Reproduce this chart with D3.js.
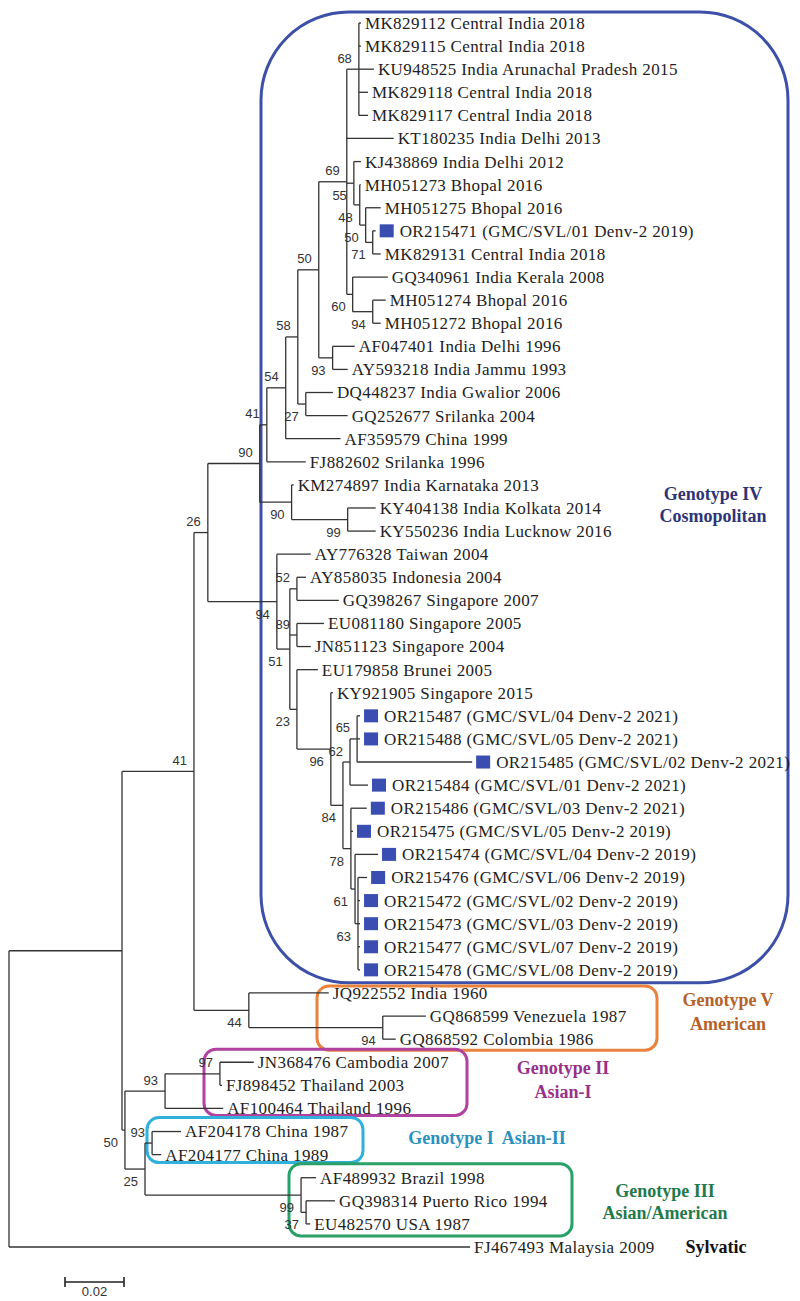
<!DOCTYPE html>
<html>
<head>
<meta charset="utf-8">
<script src="https://cdn.jsdelivr.net/npm/d3@7"></script>
<style>
  html, body { margin: 0; padding: 0; background: #fff; }
  svg { display: block; }
  .serif { font-family: 'Liberation Serif', 'Times New Roman', serif; }
  .sans { font-family: 'Liberation Sans', Arial, sans-serif; }
</style>
</head>
<body>
<svg id="chart" width="800" height="1301"></svg>
<script>
// ---------------- DATA ----------------
// Taxa in the order they appear in the tree (top to bottom)
const taxa = [
  "MK829112 Central India 2018",
  "MK829115 Central India 2018",
  "KU948525 India Arunachal Pradesh 2015",
  "MK829118 Central India 2018",
  "MK829117 Central India 2018",
  "KT180235 India Delhi 2013",
  "KJ438869 India Delhi 2012",
  "MH051273 Bhopal 2016",
  "MH051275 Bhopal 2016",
  "OR215471 (GMC/SVL/01 Denv-2 2019)",
  "MK829131 Central India 2018",
  "GQ340961 India Kerala 2008",
  "MH051274 Bhopal 2016",
  "MH051272 Bhopal 2016",
  "AF047401 India Delhi 1996",
  "AY593218 India Jammu 1993",
  "DQ448237 India Gwalior 2006",
  "GQ252677 Srilanka 2004",
  "AF359579 China 1999",
  "FJ882602 Srilanka 1996",
  "KM274897 India Karnataka 2013",
  "KY404138 India Kolkata 2014",
  "KY550236 India Lucknow 2016",
  "AY776328 Taiwan 2004",
  "AY858035 Indonesia 2004",
  "GQ398267 Singapore 2007",
  "EU081180 Singapore 2005",
  "JN851123 Singapore 2004",
  "EU179858 Brunei 2005",
  "KY921905 Singapore 2015",
  "OR215487 (GMC/SVL/04 Denv-2 2021)",
  "OR215488 (GMC/SVL/05 Denv-2 2021)",
  "OR215485 (GMC/SVL/02 Denv-2 2021)",
  "OR215484 (GMC/SVL/01 Denv-2 2021)",
  "OR215486 (GMC/SVL/03 Denv-2 2021)",
  "OR215475 (GMC/SVL/05 Denv-2 2019)",
  "OR215474 (GMC/SVL/04 Denv-2 2019)",
  "OR215476 (GMC/SVL/06 Denv-2 2019)",
  "OR215472 (GMC/SVL/02 Denv-2 2019)",
  "OR215473 (GMC/SVL/03 Denv-2 2019)",
  "OR215477 (GMC/SVL/07 Denv-2 2019)",
  "OR215478 (GMC/SVL/08 Denv-2 2019)",
  "JQ922552 India 1960",
  "GQ868599 Venezuela 1987",
  "GQ868592 Colombia 1986",
  "JN368476 Cambodia 2007",
  "FJ898452 Thailand 2003",
  "AF100464 Thailand 1996",
  "AF204178 China 1987",
  "AF204177 China 1989",
  "AF489932 Brazil 1998",
  "GQ398314 Puerto Rico 1994",
  "EU482570 USA 1987",
  "FJ467493 Malaysia 2009"
];
const taxonParent = [
  "N68","N68","N68","N68","N68","P","Q1","Q2","Q3","Q4","Q4",
  "N60","N94a","N94a","N93","N93","N27","N27","Y","Z","W","N99","N99",
  "T","R1","R1","R2","R2","O","N96","K","K","K","L","J","J","I",
  "H","H","H","H","H","F","G","G","N97","N97","E","C","C","III","N37","N37","root"
];
// branch lengths (substitutions/site)
const taxonLength = [
  0.0007,0.0007,0.0051,0.0031,0.0031,0.0159,0.0024,0.0003,0.0051,0.0010,0.0027,
  0.0119,0.0044,0.0027,0.0075,0.0051,0.0092,0.0142,0.0186,0.0132,0.0007,0.0095,0.0095,
  0.0115,0.0031,0.0142,0.0092,0.0047,0.0071,0.0007,0.0010,0.0010,0.0390,0.0061,0.0054,0.0007,0.0078,
  0.0031,0.0007,0.0007,0.0007,0.0007,0.0271,0.0146,0.0044,0.0115,0.0007,0.0197,0.0098,0.0031,0.0051,0.0098,0.0014,0.1563
];
// study isolates (marked with a square)
const studyIsolates = [
  "OR215471","OR215487","OR215488","OR215485","OR215484","OR215486",
  "OR215475","OR215474","OR215476","OR215472","OR215473","OR215477","OR215478"
];
// internal nodes
const nodeIds     = ["root","A","n41","B","U","F","V","T","Z","W","Y","X","N50","N27","P","N93",
                     "N68","Q1","Q2","Q3","Q4","N60","N94a","N99","S","R1","R2","O","N96","M","L","K",
                     "J","I","H","G","E","N97","D","C","III","N37"];
const nodeParent  = ["","root","A","A","n41","n41","U","U","V","V","Z","Y","X","X","N50","N50",
                     "P","P","Q1","Q2","Q3","P","N60","W","T","S","S","S","O","N96","M","L",
                     "M","J","I","F","B","E","B","D","D","III"];
const nodeLength  = [0,0.0383,0.0244,0.0010,0.0047,0.0186,0.0176,0.0234,0.0024,0.0108,0.0064,0.0041,0.0071,0.0027,0.0095,0.0047,
                     0.0041,0.0024,0.0020,0.0020,0.0024,0.0020,0.0068,0.0190,0.0044,0.0024,0.0024,0.0024,0.0115,0.0041,0.0024,0.0024,
                     0.0027,0.0014,0.0010,0.0454,0.0136,0.0186,0.0068,0.0024,0.0529,0.0017];
const bootstrap   = [null,null,41,50,26,44,90,94,41,90,54,58,50,27,69,93,
                     68,55,48,50,71,60,94,99,51,52,89,23,96,84,62,65,
                     78,61,63,94,93,97,25,93,99,37];
// genotype groups: first and last taxon index, label lines
const genotypeNames = ["Genotype IV|Cosmopolitan","Genotype V|American","Genotype II|Asian-I","Genotype I\u00a0 Asian-II","Genotype III|Asian/American"];
const genotypeFirst = [0, 42, 45, 48, 50];
const genotypeLast  = [41, 44, 47, 49, 52];
const scaleBarValue = 0.02;

// ---------------- STYLE / LAYOUT ----------------
const groupStyle = [
  {stroke:"#3c4fa9", text:"#2e3577", x0:261, x1:788, padTop:11, padBot:13, rx:88, tx:713, ty:[494,516]},
  {stroke:"#e9823d", text:"#b5622a", x0:317, x1:657, padTop:7,  padBot:11, rx:12, tx:728, ty:[1000,1024]},
  {stroke:"#b3419f", text:"#98318a", x0:204, x1:467, padTop:13, padBot:7,  rx:12, tx:563, ty:[1068,1092]},
  {stroke:"#30b0da", text:"#2b90bd", x0:147, x1:363, padTop:14, padBot:8,  rx:12, tx:487, ty:[1138]},
  {stroke:"#28a067", text:"#1f7a4d", x0:289, x1:572, padTop:14, padBot:12, rx:12, tx:665, ty:[1191,1213]}
];
const lineColor = "#333";
const markColor = "#3a4db0";

// ---------------- BUILD TREE ----------------
const rows = [];
nodeIds.forEach((id,i) => rows.push({id, parent: nodeParent[i] || null, len: nodeLength[i], boot: bootstrap[i], leaf: -1}));
taxa.forEach((name,i) => rows.push({id: "t"+i, parent: taxonParent[i], len: taxonLength[i], boot: null, leaf: i, name}));

const root = d3.stratify().id(d => d.id).parentId(d => d.parent)(rows);
root.eachAfter(n => { n.minLeaf = n.children ? d3.min(n.children, c => c.minLeaf) : n.data.leaf; });
root.sort((a,b) => a.minLeaf - b.minLeaf);

const x = d3.scaleLinear().domain([0, 0.16]).range([9, 9 + 0.16*2950]);
const y = d3.scaleLinear().domain([0, taxa.length - 1]).range([23, 1247]);

root.eachBefore(n => { n.dist = n.parent ? n.parent.dist + n.data.len : 0; n.px = x(n.dist); });
root.eachAfter(n => {
  if (n.children) n.py = (n.children[0].py + n.children[n.children.length-1].py) / 2;
  else n.py = y(n.data.leaf);
});

const svg = d3.select("#chart");

// group boxes
const gBox = svg.append("g");
genotypeNames.forEach((nm, i) => {
  const s = groupStyle[i];
  const top = y(genotypeFirst[i]) - s.padTop, bot = y(genotypeLast[i]) + s.padBot;
  gBox.append("rect").attr("x", s.x0).attr("y", top).attr("width", s.x1 - s.x0).attr("height", bot - top)
    .attr("rx", s.rx).attr("ry", s.rx).attr("fill", "none").attr("stroke", s.stroke).attr("stroke-width", 3);
  nm.split("|").forEach((line, k) => {
    gBox.append("text").attr("class", "serif").attr("x", s.tx).attr("y", s.ty[k]).attr("dy", "0.35em")
      .attr("text-anchor", "middle")
      .attr("font-weight", "bold").attr("font-size", 18).attr("fill", s.text).text(line);
  });
});

// branches
const gTree = svg.append("g").attr("stroke", lineColor).attr("stroke-width", 1.3).attr("fill", "none");
root.descendants().forEach(n => {
  if (n.parent) gTree.append("line").attr("x1", n.parent.px).attr("x2", n.px).attr("y1", n.py).attr("y2", n.py);
  if (n.children) {
    gTree.append("line").attr("x1", n.px).attr("x2", n.px)
      .attr("y1", n.children[0].py).attr("y2", n.children[n.children.length-1].py);
  }
});

// bootstrap labels
const gBoot = svg.append("g").attr("class", "sans").attr("font-size", 13).attr("fill", "#333");
root.descendants().filter(n => n.children && n.data.boot != null).forEach(n => {
  const above = n.parent && n.py < n.parent.py;
  gBoot.append("text").attr("x", n.px - 7).attr("y", above ? n.py - 6.5 : n.py + 17)
    .attr("text-anchor", "end").text(n.data.boot);
});

// leaf labels
const gLeaf = svg.append("g").attr("class", "serif")
  .attr("font-size", 17).attr("letter-spacing", "0.4px").attr("fill", "#222");
root.leaves().forEach(n => {
  const name = n.data.name;
  const marked = studyIsolates.includes(name.split(" ")[0]);
  let tx = n.px + 4;
  if (marked) {
    gLeaf.append("rect").attr("x", tx).attr("y", n.py - 6.5).attr("width", 14).attr("height", 13).attr("fill", markColor);
    tx += 20;
  }
  gLeaf.append("text").attr("x", tx).attr("y", n.py).attr("dy", "0.35em").text(name);
});

// Sylvatic label
svg.append("text").attr("class", "serif").attr("x", 716).attr("y", y(taxa.length-1)).attr("dy", "0.35em").attr("text-anchor", "middle")
  .attr("font-weight", "bold").attr("font-size", 18).attr("fill", "#111").text("Sylvatic");

// scale bar
const sbX = 65, sbY = 1282, sbW = x(scaleBarValue) - x(0);
const gSb = svg.append("g").attr("stroke", "#222").attr("stroke-width", 1.6);
gSb.append("line").attr("x1", sbX).attr("x2", sbX + sbW).attr("y1", sbY).attr("y2", sbY);
gSb.append("line").attr("x1", sbX).attr("x2", sbX).attr("y1", sbY - 5).attr("y2", sbY + 5);
gSb.append("line").attr("x1", sbX + sbW).attr("x2", sbX + sbW).attr("y1", sbY - 5).attr("y2", sbY + 5);
svg.append("text").attr("class", "sans").attr("x", sbX + sbW/2).attr("y", sbY + 14).attr("text-anchor", "middle")
  .attr("font-size", 13).attr("fill", "#333")
  .text(scaleBarValue.toString());
</script>
</body>
</html>
